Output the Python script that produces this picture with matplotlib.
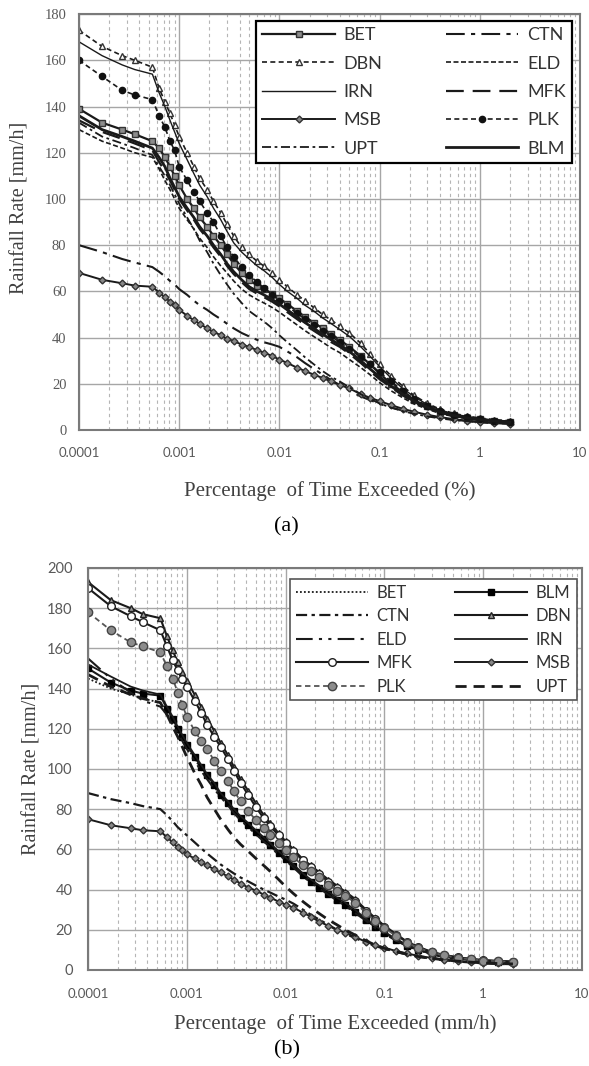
import matplotlib
matplotlib.use('Agg')
import matplotlib.pyplot as plt
from matplotlib.ticker import LogLocator, NullFormatter

# percentage of time exceeded (%), shared by every station curve
pct = [0.0001, 0.00017, 0.00027, 0.00036, 0.00054, 0.00063, 0.00072, 0.00081, 0.0009, 0.001,
       0.0012, 0.0014, 0.0016, 0.0019, 0.0022, 0.0026, 0.003, 0.0035, 0.0042, 0.005,
       0.006, 0.007, 0.0085, 0.01, 0.012, 0.015, 0.018, 0.022, 0.027, 0.033,
       0.04, 0.05, 0.065, 0.08, 0.1, 0.13, 0.17, 0.22, 0.3, 0.4,
       0.55, 0.75, 1.0, 1.4, 2.0]

# panel (a) rainfall rates [mm/h]
a_BET = [139, 133, 130, 128, 125, 122, 118, 114, 110, 106, 100, 96, 92, 88, 84, 80, 76, 72, 68, 65,
         62.5, 61, 59, 57, 54.5, 51.5, 49, 46.5, 44, 41.5, 39, 36, 32, 28.5, 24.5, 20, 16.5, 13, 10.2, 8,
         6.5, 5.4, 4.6, 4, 3.5]
a_CTN = [80, 77, 74, 72.5, 70.5, 68.5, 66.5, 64.5, 63, 61, 58.5, 56, 54, 52, 50, 48, 46, 44, 42, 40.5,
         39, 38, 37, 36, 34, 31.5, 29, 26.5, 24, 21.5, 19.5, 17, 14.5, 13, 11.3, 9.8, 8.4, 7.3, 6.2, 5.3,
         4.5, 3.9, 3.4, 3, 2.7]
a_DBN = [173, 166, 162, 160, 157, 148, 142, 137, 132, 127, 120, 114, 109, 104, 99, 94, 89, 84, 79, 76,
         73, 71, 68, 65, 62, 58.5, 56, 53, 50, 47.5, 45, 42, 37.5, 33, 28.5, 23.5, 19, 15, 11.5, 9,
         7.2, 6, 5.2, 4.5, 4]
a_ELD = [130, 125, 122, 120, 118, 113, 108, 104, 100, 96, 91, 87, 83, 79, 75, 71, 68, 64.5, 61, 58.5,
         56.5, 55, 53, 51, 48.5, 45.5, 43, 40.5, 38, 35.5, 33.5, 30.5, 27, 24, 20.5, 17, 14, 11.3, 9, 7.2,
         5.8, 4.9, 4.2, 3.6, 3.1]
a_IRN = [168, 162, 158, 156, 154, 146, 140, 134, 129, 124, 117, 111, 106, 101, 96, 91, 86, 81, 77, 74,
         71, 69, 66, 63, 60, 57, 54, 51.5, 48.5, 46, 43.5, 40.5, 36, 32, 27.5, 22.5, 18, 14.5, 11, 8.7,
         7, 5.8, 5, 4.3, 3.8]
a_MFK = [134, 129, 126, 124, 121, 116, 112, 108, 104, 100, 95, 91, 87, 83, 79, 75, 71, 67.5, 64, 61,
         59, 57.5, 55.5, 53.5, 51, 48, 45.5, 43, 40.5, 38, 36, 33, 29, 25.5, 22, 18.5, 15, 12, 9.5, 7.5,
         6.1, 5.1, 4.4, 3.8, 3.3]
a_MSB = [68, 65, 63.5, 62.5, 62, 59.5, 57.5, 55.5, 54, 52, 49.5, 47.5, 46, 44, 42.5, 41, 39.5, 38.5, 37, 36,
         34.5, 33.5, 32, 30.5, 29, 27, 25.5, 24, 22.5, 21, 19.5, 18, 15.5, 14, 12.5, 10.8, 9.2, 7.9, 6.6, 5.6,
         4.7, 4, 3.5, 3.1, 2.8]
a_PLK = [160, 153, 147, 145, 143, 136, 131, 125, 121, 114, 108, 103, 99, 94, 90, 84, 79, 75, 70.5, 67,
         64, 61.5, 58.5, 56, 53.5, 50.5, 48, 45.5, 43, 40.5, 38, 35, 31.5, 28.5, 25, 21, 17, 13.5, 10.5, 8.3,
         6.7, 5.6, 4.8, 4.1, 3.6]
a_UPT = [133, 127, 124, 122, 119, 114, 110, 106, 102, 98, 92, 87, 82, 77, 72, 67, 63, 59, 55, 51.5,
         49, 47, 44, 41, 38, 34.5, 31.5, 28.5, 25.5, 23, 21, 18.5, 15.5, 13.5, 11.5, 9.7, 8.2, 7, 5.9, 5,
         4.3, 3.8, 3.4, 3, 2.7]
a_BLM = [136, 130, 127, 125, 122, 118, 114, 109, 105, 101, 96, 92, 88, 84, 80, 76, 72, 68.5, 65, 62,
         60, 58.5, 56.5, 54.5, 52, 49, 46.5, 44, 41.5, 39, 37, 34, 30, 26.5, 23, 19, 15.5, 12.5, 9.8, 7.8,
         6.3, 5.2, 4.5, 3.9, 3.4]

# panel (b) rainfall rates [mm/h]
b_BET = [145, 140, 137, 135, 133, 128, 123, 119, 115, 111, 105, 100, 96, 91, 87, 83, 79, 75, 71.5, 68,
         64.5, 61.5, 58, 55, 51.5, 47, 44, 41, 38, 35, 32.5, 29, 25, 21.5, 18.5, 15, 12, 9.8, 7.9, 6.6,
         5.6, 4.9, 4.4, 4, 3.7]
b_BLM = [150, 143, 139, 137.5, 136.5, 130, 125, 120, 116, 112, 106, 101, 97, 92, 87, 83, 79, 75.5, 72, 68.5,
         65, 62, 58, 55, 51.5, 47, 44, 41, 38, 35, 32.5, 29, 25, 21.5, 18.5, 15, 12, 10, 8, 6.7,
         5.7, 5, 4.5, 4.1, 3.8]
b_CTN = [88, 85, 83, 81.5, 80, 77, 74, 71, 69, 67, 63.5, 60.5, 58, 55, 52.5, 50, 48, 46, 44, 42,
         40, 38.5, 36.5, 35, 33, 30, 27.5, 25, 22.5, 20, 18, 16, 13.5, 12, 10.5, 9, 7.7, 6.6, 5.6, 4.8,
         4.2, 3.7, 3.3, 3, 2.8]
b_DBN = [193, 184, 180, 177, 175, 166, 159, 153, 148, 144, 137, 131, 125, 119, 113, 107, 101, 95, 89, 83,
         77, 73, 68, 64, 60, 55, 52, 48.5, 45, 42, 39, 35.5, 30, 26, 22, 18, 14, 11.5, 9, 7.5,
         6.3, 5.5, 4.9, 4.5, 4.2]
b_ELD = [155, 145, 138, 134, 131, 127, 122, 118, 114, 110, 104, 99, 95, 90, 86, 82, 78, 74.5, 71, 67.5,
         64, 61, 57.5, 54.5, 51, 46.5, 43.5, 40.5, 37.5, 34.5, 32, 28.5, 24.5, 21, 18, 14.7, 11.8, 9.6, 7.7, 6.4,
         5.4, 4.7, 4.2, 3.8, 3.5]
b_IRN = [152, 146, 141, 139, 137, 131, 126, 121, 117, 113, 107, 102, 97.5, 93, 88, 84, 80, 76.5, 73, 69.5,
         66, 63, 59, 56, 52.5, 48, 45, 42, 39, 36, 33.5, 30, 25.5, 22, 19, 15.5, 12.5, 10.2, 8.2, 6.8,
         5.8, 5.1, 4.6, 4.2, 3.9]
b_MFK = [190, 181, 176, 173, 169, 161, 154, 149, 145, 141, 134, 128, 122, 116, 111, 105, 99, 93, 87, 81,
         75.5, 71.5, 67, 63, 59, 54.5, 51, 47.5, 44, 41, 38, 34.5, 29.5, 25.5, 21.5, 17.5, 13.8, 11.2, 8.8, 7.3,
         6.2, 5.4, 4.8, 4.4, 4.1]
b_MSB = [75, 72, 70.5, 69.5, 69, 66, 63.5, 61, 59.5, 57.5, 55.5, 53.5, 52, 50, 48.5, 46.5, 45, 43, 41, 39.5,
         37.5, 36, 34, 32.5, 31, 28.5, 26.5, 24, 22, 20, 18.5, 16.5, 14, 12.5, 11, 9.5, 8.2, 7, 6, 5.2,
         4.5, 4, 3.6, 3.3, 3]
b_PLK = [178, 169, 163, 161, 158, 151, 145, 138, 132, 126, 119, 114, 110, 104, 99, 94, 89, 84, 79, 74.5,
         70.5, 67, 63, 59.5, 56, 52, 49, 46, 42.5, 39.5, 37, 33.5, 28.5, 24.5, 21, 17, 13.5, 11, 8.7, 7.2,
         6.1, 5.3, 4.7, 4.3, 4]
b_UPT = [147, 141, 137, 135, 133, 127, 121, 116, 111, 106, 98, 92, 86, 80, 75, 70, 66, 62.5, 59, 55.5,
         52, 49, 45, 41.5, 38, 34, 31, 28, 25, 22.5, 20, 17.5, 14.5, 12.5, 10.8, 9.2, 7.8, 6.7, 5.8, 5,
         4.4, 3.9, 3.5, 3.2, 3]

xticks = [0.0001, 0.001, 0.01, 0.1, 1, 10]
xtick_labels = ['0.0001', '0.001', '0.01', '0.1', '1', '10']

K = '#1a1a1a'
series_a = [
    ('BET', a_BET, dict(ls='-', lw=1.6, marker='s', ms=5, mfc='#8c8c8c', mec='#333333')),
    ('CTN', a_CTN, dict(dashes=(9, 3, 2, 3), lw=1.5)),
    ('DBN', a_DBN, dict(dashes=(3, 2), lw=1.2, marker='^', ms=5, mfc='white', mec='#333333')),
    ('ELD', a_ELD, dict(dashes=(3, 1.5), lw=1.2)),
    ('IRN', a_IRN, dict(ls='-', lw=1.0)),
    ('MFK', a_MFK, dict(dashes=(8, 4), lw=1.6)),
    ('MSB', a_MSB, dict(ls='-', lw=1.4, marker='D', ms=3.5, mfc='#888888', mec='#333333')),
    ('PLK', a_PLK, dict(dashes=(3, 2), lw=1.2, marker='o', ms=4.5, mfc='#111111', mec='#111111')),
    ('UPT', a_UPT, dict(dashes=(5, 2, 1.5, 2), lw=1.3)),
    ('BLM', a_BLM, dict(ls='-', lw=2.0)),
]
series_b = [
    ('BET', b_BET, dict(dashes=(1, 1.2), lw=1.3)),
    ('BLM', b_BLM, dict(ls='-', lw=1.5, marker='s', ms=5, mfc='black', mec='black')),
    ('CTN', b_CTN, dict(dashes=(5, 2, 1.5, 2), lw=1.6)),
    ('DBN', b_DBN, dict(ls='-', lw=1.5, marker='^', ms=5, mfc='#999999', mec='#222222')),
    ('ELD', b_ELD, dict(dashes=(8, 3, 1.5, 3, 1.5, 3), lw=1.5)),
    ('IRN', b_IRN, dict(ls='-', lw=1.3)),
    ('MFK', b_MFK, dict(ls='-', lw=1.5, marker='o', ms=5.5, mfc='white', mec='#222222')),
    ('MSB', b_MSB, dict(ls='-', lw=1.4, marker='D', ms=3.5, mfc='#888888', mec='#333333')),
    ('PLK', b_PLK, dict(dashes=(3, 2), lw=1.3, color='#555555', marker='o', ms=6, mfc='#8c8c8c', mec='#444444')),
    ('UPT', b_UPT, dict(dashes=(4, 2.5), lw=2.0)),
]


def setup(ax, ymax, ytick_font, ypad, xpad):
    ax.set_xscale('log')
    ax.set_xlim(1e-4, 10)
    ax.set_ylim(0, ymax)
    ax.set_yticks(range(0, ymax + 1, 20))
    ax.set_xticks(xticks)
    ax.set_xticklabels(xtick_labels)
    ax.xaxis.set_minor_locator(LogLocator(base=10, subs=range(2, 10), numticks=20))
    ax.xaxis.set_minor_formatter(NullFormatter())
    ax.grid(True, which='major', color='#a6a6a6', lw=1.0)
    ax.grid(True, which='minor', axis='x', color='#b5b5b5', lw=0.8, ls=(0, (3, 3)))
    ax.set_axisbelow(True)
    for s in ax.spines.values():
        s.set_color('#7a7a7a')
        s.set_linewidth(1.5)
    ax.tick_params(which='both', length=0, colors='#595959')
    ax.tick_params(axis='y', pad=ypad)
    ax.tick_params(axis='x', pad=xpad)
    for t in ax.get_yticklabels():
        t.set_fontfamily(ytick_font)
        t.set_fontsize(10.5)
    for t in ax.get_xticklabels():
        t.set_fontfamily('Lato')
        t.set_fontsize(9.5)


fig = plt.figure(figsize=(5.89, 10.66), dpi=100)
ax1 = fig.add_axes([0.1341, 0.5966, 0.8506, 0.3902])
ax2 = fig.add_axes([0.1494, 0.0901, 0.8387, 0.3771])

for ax, series in ((ax1, series_a), (ax2, series_b)):
    for name, vals, st in series:
        st = dict(st)
        st.setdefault('color', K)
        st.setdefault('mew', 1.0)
        ax.plot(pct, vals, label=name, **st)

setup(ax1, 180, 'Liberation Serif', 9, 12)
setup(ax2, 200, 'Lato', 11, 13)

lab = dict(family='Liberation Serif', size=15, color='#404040')
ax1.set_xlabel('Percentage  of Time Exceeded (%)', labelpad=16, **lab)
ax1.set_ylabel('Rainfall Rate [mm/h]', size=14.5, family='Liberation Serif', color='#404040')
ax1.yaxis.set_label_coords(-0.098, 0.535)
ax2.set_xlabel('Percentage  of Time Exceeded (mm/h)', labelpad=10, **lab)
ax2.set_ylabel('Rainfall Rate [mm/h]', size=14.5, family='Liberation Serif', color='#404040')
ax2.yaxis.set_label_coords(-0.095, 0.5)

fig.text(0.4856, 0.5056, '(a)', ha='center', va='center', family='Liberation Serif', size=16)
fig.text(0.487, 0.015, '(b)', ha='center', va='center', family='Liberation Serif', size=16)

for ax, anchor, fs, lw, ec, sp, hl, cs in ((ax1, (0.984, 0.983), 13, 1.6, 'black', 0.68, 4.0, 3.5),
                                           (ax2, (0.99, 0.973), 12, 1.2, '#555555', 0.45, 4.3, 2.6)):
    h, l = ax.get_legend_handles_labels()
    order = list(range(0, 10, 2)) + list(range(1, 10, 2))
    leg = ax.legend([h[i] for i in order], [l[i] for i in order], ncol=2,
                    loc='upper right', bbox_to_anchor=anchor, borderaxespad=0,
                    fancybox=False, framealpha=1, edgecolor=ec, handlelength=hl,
                    handletextpad=0.5, columnspacing=cs, labelspacing=sp, borderpad=0.35,
                    prop=dict(family='Lato', size=fs))
    leg.get_frame().set_linewidth(lw)
    for t in leg.get_texts():
        t.set_color('#333333')

fig.savefig('out.png', dpi=100)
